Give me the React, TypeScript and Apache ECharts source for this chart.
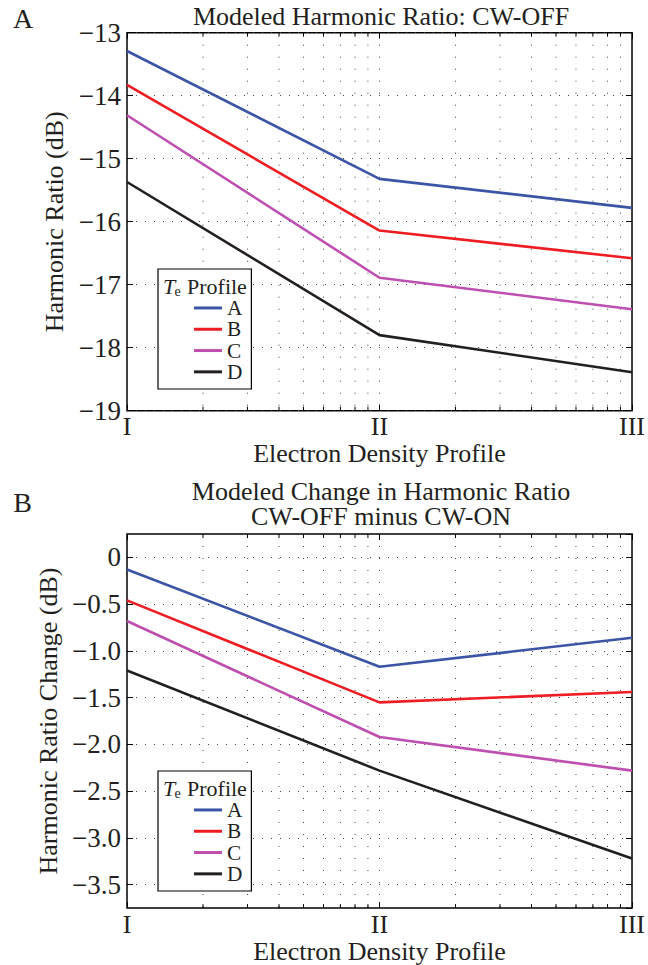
import React, { useEffect, useRef } from 'react';
import * as echarts from 'echarts';

// ---- data ----
const categories = ['I', 'II', 'III'];
const xPositions = [1, 10, 100];
const minorXTicks = [2, 3, 4, 5, 6, 7, 8, 9, 20, 30, 40, 50, 60, 70, 80, 90];
const profileNames = ['A', 'B', 'C', 'D'];

// Panel A: Modeled Harmonic Ratio, CW-OFF (dB)
const offA = [-13.29, -15.32, -15.78];
const offB = [-13.83, -16.14, -16.58];
const offC = [-14.31, -16.89, -17.39];
const offD = [-15.37, -17.8, -18.39];

// Panel B: change, CW-OFF minus CW-ON (dB)
const chgA = [-0.13, -1.17, -0.86];
const chgB = [-0.46, -1.55, -1.44];
const chgC = [-0.68, -1.92, -2.28];
const chgD = [-1.21, -2.28, -3.22];

const yDomainTop = [-19, -13];
const yStepTop = 1;
const yDomainBottom = [-3.75, 0.25];
const yStepBottom = 0.5;

// ---- styles ----
const FONT = 'Liberation Serif';
const TXT = '#231F20';
const LINE_COLORS = ['#3B54A5', '#EE1D23', '#BE4FB0', '#231F20'];
const DOT = '#444';

const grids = [
  { left: 127, top: 32.7, width: 508, height: 378 },
  { left: 127, top: 534, width: 508, height: 379 },
];

const fmtMinus = (s: string) => s.replace('-', '\u2212');

function xLabel(v: number) {
  const i = xPositions.findIndex((p) => Math.abs(Math.log10(v) - Math.log10(p)) < 1e-6);
  return i >= 0 ? categories[i] : '';
}

function buildOption() {
  const panels = [
    { data: [offA, offB, offC, offD], dom: yDomainTop, step: yStepTop, yName: 'Harmonic Ratio (dB)' },
    { data: [chgA, chgB, chgC, chgD], dom: yDomainBottom, step: yStepBottom, yName: 'Harmonic Ratio Change (dB)' },
  ];

  const xAxis: any[] = [];
  const yAxis: any[] = [];
  const series: any[] = [];

  panels.forEach((p, gi) => {
    ['bottom', 'top'].forEach((pos) => {
      const main = pos === 'bottom';
      xAxis.push({
        type: 'log',
        logBase: 10,
        min: xPositions[0],
        max: xPositions[xPositions.length - 1],
        gridIndex: gi,
        position: pos,
        axisLine: { show: false, onZero: false },
        axisTick: { show: true, inside: true, length: 6, lineStyle: { color: '#000', width: 1 } },
        axisLabel: main
          ? { show: true, margin: 3, fontFamily: FONT, fontSize: 26, color: TXT, formatter: (v: number) => xLabel(v) }
          : { show: false },
        splitLine: main ? { show: true, lineStyle: { type: [1, 11], color: DOT, width: 1 } } : { show: false },
        name: main ? 'Electron Density Profile' : '',
        nameLocation: 'middle',
        nameGap: 19,
        nameTextStyle: { fontFamily: FONT, fontSize: 26, color: TXT },
      });
    });
    ['left', 'right'].forEach((pos) => {
      const main = pos === 'left';
      const isTop = gi === 0;
      const yAx: any = {
        type: 'value',
        gridIndex: gi,
        position: pos,
        min: p.dom[0],
        max: p.dom[1],
        axisLine: { show: false, onZero: false },
        axisTick: { show: true, inside: true, length: 6, lineStyle: { color: '#000', width: 1 } },
        axisLabel: main
          ? {
              show: true,
              margin: 6,
              fontFamily: FONT,
              fontSize: 27,
              color: TXT,
              showMinLabel: isTop,
              showMaxLabel: isTop,
              formatter: (v: number) => {
                if (Math.abs(v / p.step - Math.round(v / p.step)) > 1e-6) return '';
                if (isTop) return fmtMinus(String(v));
                return Math.abs(v) < 1e-9 ? '0' : fmtMinus(v.toFixed(1));
              },
            }
          : { show: false },
        splitLine: main ? { show: true, lineStyle: { type: [1, 8], color: DOT, width: 1 } } : { show: false },
        name: main ? p.yName : '',
        nameLocation: 'middle',
        nameGap: 42,
        nameRotate: 90,
        nameTextStyle: { fontFamily: FONT, fontSize: 26, color: TXT },
      };
      if (isTop) {
        yAx.interval = p.step;
      } else {
        yAx.minInterval = p.step;
        yAx.maxInterval = p.step;
        yAx.splitNumber = 8;
      }
      yAxis.push(yAx);
    });

    const xi = gi * 2;
    const yi = gi * 2;
    series.push({
      type: 'custom',
      name: 'minor-grid-' + gi,
      xAxisIndex: xi,
      yAxisIndex: yi,
      silent: true,
      z: 1,
      data: minorXTicks.map((x) => [x, p.dom[0]]),
      renderItem: (params: any, api: any) => {
        const x = api.value(0);
        const t = api.coord([x, p.dom[1]]);
        const b = api.coord([x, p.dom[0]]);
        return {
          type: 'group',
          children: [
            { type: 'line', shape: { x1: t[0], y1: t[1], x2: b[0], y2: b[1] }, style: { stroke: DOT, lineWidth: 1, lineDash: [1, 11] } },
            { type: 'line', shape: { x1: b[0], y1: b[1], x2: b[0], y2: b[1] - 4 }, style: { stroke: '#000', lineWidth: 1 } },
            { type: 'line', shape: { x1: t[0], y1: t[1], x2: t[0], y2: t[1] + 4 }, style: { stroke: '#000', lineWidth: 1 } },
          ],
        };
      },
    });
    p.data.forEach((vals, si) => {
      series.push({
        type: 'line',
        name: profileNames[si],
        xAxisIndex: xi,
        yAxisIndex: yi,
        symbol: 'none',
        z: 3,
        lineStyle: { width: 2.6, color: LINE_COLORS[si] },
        itemStyle: { color: LINE_COLORS[si] },
        data: xPositions.map((x, k) => [x, vals[k]]),
      });
    });
  });

  const legendTops = [269, 771];
  const legend = legendTops.map((top) => ({
    orient: 'vertical',
    left: 158,
    top,
    data: profileNames,
    icon: 'rect',
    itemWidth: 28,
    itemHeight: 3,
    itemGap: 0,
    padding: [28.3, 9, 6.5, 36],
    backgroundColor: '#fff',
    borderColor: '#000',
    borderWidth: 1.2,
    borderRadius: 0,
    selectedMode: false,
    textStyle: { fontFamily: FONT, fontSize: 21.3, color: TXT, lineHeight: 21.3 },
    z: 5,
  }));

  const txt = (text: string, x: number, y: number, extra: any = {}) => ({
    type: 'text',
    x,
    y,
    z: 20,
    style: {
      text,
      fontFamily: FONT,
      fontSize: 26,
      fill: TXT,
      align: 'center',
      verticalAlign: 'middle',
      ...extra,
    },
  });

  const graphic: any[] = [
    txt('A', 23, 18, { fontSize: 28 }),
    txt('B', 22.5, 502, { fontSize: 28 }),
    txt('Modeled Harmonic Ratio: CW-OFF', 381, 16),
    txt('Modeled Change in Harmonic Ratio\nCW-OFF minus CW-ON', 381, 503.75, { lineHeight: 25.5 }),
  ];
  legendTops.forEach((top) => {
    graphic.push(txt('T', 163, top + 17, { align: 'left', fontStyle: 'italic', fontSize: 22 }));
    graphic.push(txt('e', 174.5, top + 22, { align: 'left', fontSize: 14 }));
    graphic.push(txt('Profile', 187, top + 17, { align: 'left', fontSize: 22 }));
  });

  return {
    animation: false,
    backgroundColor: '#fff',
    grid: grids.map((g) => ({ ...g, show: true, borderColor: '#000', borderWidth: 1.5, backgroundColor: 'transparent' })),
    xAxis,
    yAxis,
    series,
    legend,
    graphic,
  };
}

export default function App() {
  const ref = useRef<HTMLDivElement>(null);
  useEffect(() => {
    if (!ref.current) return;
    const chart = echarts.init(ref.current, null, { renderer: 'svg' });
    chart.setOption(buildOption() as any);
    return () => chart.dispose();
  }, []);
  return <div ref={ref} style={{ position: 'fixed', left: 0, top: 0, width: 648, height: 965, background: '#fff' }} />;
}
